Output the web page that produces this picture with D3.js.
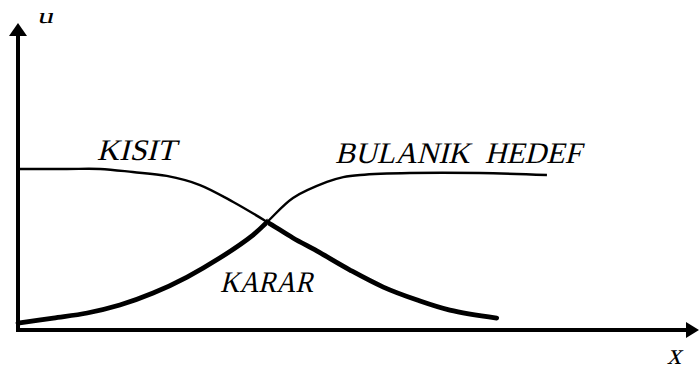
<!DOCTYPE html>
<html>
<head>
<meta charset="utf-8">
<script src="https://cdn.jsdelivr.net/npm/d3@7"></script>
<style>
  body { margin: 0; background: #fff; }
</style>
</head>
<body>
<svg id="chart"></svg>
<script>
// ******************** Data ************************
// constraint (KISIT) membership
var kisitX = [0, 7.2, 12.1, 16.9, 21.9, 26.8, 31.7, 36.7, 40.5, 44.0, 48.9, 53.8, 58.8, 63.6, 70.5];
var kisit  = [0.994, 0.994, 0.994, 0.975, 0.951, 0.895, 0.79, 0.667, 0.568, 0.488, 0.37, 0.265, 0.185, 0.123, 0.074];
// fuzzy goal (BULANIK HEDEF) membership
var hedefX = [0, 5.2, 10.2, 15.0, 19.9, 24.9, 29.7, 34.6, 36.7, 40.5, 45.5, 47.9, 50.4, 57.7, 68, 77.9];
var hedef  = [0.043, 0.074, 0.105, 0.154, 0.228, 0.327, 0.444, 0.586, 0.667, 0.815, 0.914, 0.944, 0.957, 0.969, 0.969, 0.957];
var crossX = 36.7; // where KARAR switches from goal to constraint
var labelText = ["KISIT", "BULANIK  HEDEF", "KARAR"];
var labelX = [11.6, 46.7, 29.75];
var labelU = [1.049, 1.031, 0.235];

// ******************** Scales ************************
var W = 699, H = 372;
var x = d3.scaleLinear().domain([0, 100]).range([18, 697]);
var y = d3.scaleLinear().domain([0, 1]).range([330, 168]);
var FONT = "Liberation Serif, Tinos, 'Times New Roman', 'DejaVu Serif', serif";
var labelWidth = [79, 246, 93]; // px widths as seen in the scan

var svg = d3.select("#chart").attr("width", W).attr("height", H);

var line = d3.line()
    .x(function (d) { return x(d[0]); })
    .y(function (d) { return y(d[1]); })
    .curve(d3.curveCatmullRom.alpha(0.5));

var kisitPts = kisit.map(function (v, i) { return [kisitX[i], v]; });
var hedefPts = hedef.map(function (v, i) { return [hedefX[i], v]; });

// clips for the thick decision curve (min of both)
var defs = svg.append("defs");
defs.append("clipPath").attr("id", "leftClip").append("rect")
    .attr("x", 0).attr("y", 0).attr("width", x(crossX)).attr("height", H);
defs.append("clipPath").attr("id", "rightClip").append("rect")
    .attr("x", x(crossX)).attr("y", 0).attr("width", W - x(crossX)).attr("height", H);

// thin full curves
svg.append("path").attr("d", line(kisitPts))
    .attr("fill", "none").attr("stroke", "#000").attr("stroke-width", 2.4);
svg.append("path").attr("d", line(hedefPts))
    .attr("fill", "none").attr("stroke", "#000").attr("stroke-width", 2.4);

// thick KARAR
svg.append("path").attr("d", line(hedefPts)).attr("clip-path", "url(#leftClip)")
    .attr("fill", "none").attr("stroke", "#000").attr("stroke-width", 4.8)
    .attr("stroke-linecap", "round");
svg.append("path").attr("d", line(kisitPts)).attr("clip-path", "url(#rightClip)")
    .attr("fill", "none").attr("stroke", "#000").attr("stroke-width", 4.8)
    .attr("stroke-linecap", "round");

// ******************** Axes ************************
var x0 = x(0), y0 = y(0);
svg.append("line").attr("x1", x0).attr("y1", y0 + 2).attr("x2", x0).attr("y2", 34)
    .attr("stroke", "#000").attr("stroke-width", 4);
svg.append("path").attr("d", "M" + x0 + ",23 L" + (x0 - 9) + ",36 L" + (x0 + 9) + ",36 Z");
svg.append("line").attr("x1", x0 - 2).attr("y1", y0).attr("x2", 688).attr("y2", y0)
    .attr("stroke", "#000").attr("stroke-width", 4);
svg.append("path").attr("d", "M699," + y0 + " L686," + (y0 - 8) + " L686," + (y0 + 8) + " Z");

// italic look via skew so the serif face is used even without an italic file
function slanted(px, py, size, str, len) {
    var t = svg.append("text")
        .attr("transform", "translate(" + px + "," + py + ") skewX(-14)")
        .attr("font-family", FONT)
        .attr("font-size", size)
        .attr("xml:space", "preserve")
        .style("white-space", "pre")
        .text(str);
    if (len) t.attr("textLength", len).attr("lengthAdjust", "spacingAndGlyphs");
    return t;
}

slanted(37, 23, 22, "u", 16);
slanted(667, 364, 30, "x", 14);
labelText.forEach(function (s, i) {
    slanted(x(labelX[i]), y(labelU[i]), 30, s, labelWidth[i]);
});
</script>
</body>
</html>
